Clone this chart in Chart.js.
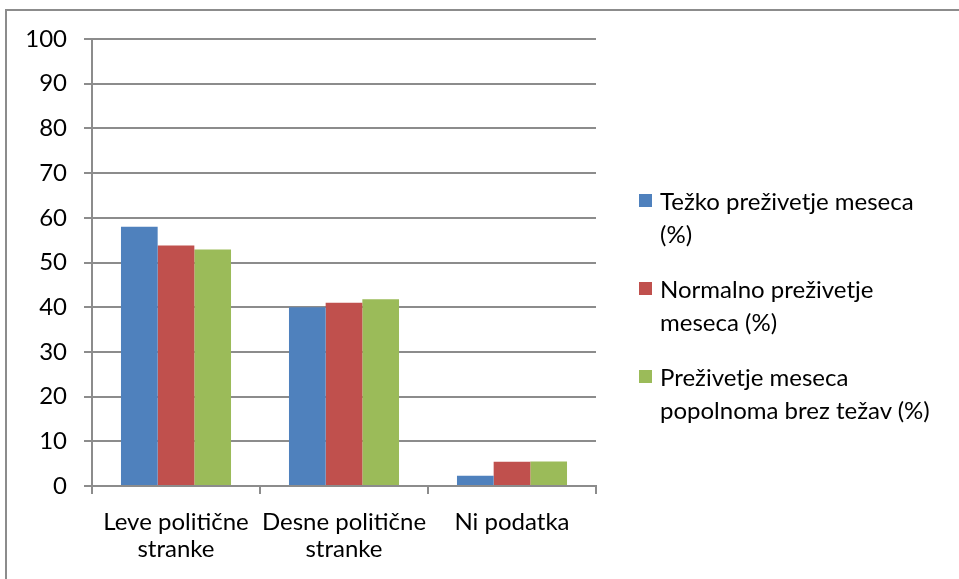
<!DOCTYPE html>
<html>
<head>
<meta charset="utf-8">
<script src="https://cdn.jsdelivr.net/npm/chart.js@4/dist/chart.umd.min.js"></script>
<style>
  body { margin: 0; background: #fff; width: 959px; height: 579px; overflow: hidden; position: relative; }
  #frame { position: absolute; left: 5px; top: 9px; width: 1000px; height: 620px; border: 2px solid #8c8c8c; box-sizing: border-box; }
  #wrap { position: absolute; left: 0; top: 0; width: 959px; height: 579px; }
  #legend { position: absolute; left: 639px; top: 184px; font-family: Lato, sans-serif; font-size: 24px; color: #000; line-height: 33px; }
  .item { position: relative; padding-left: 21px; margin-bottom: 22px; }
  .box { position: absolute; left: 0; top: 10px; width: 13px; height: 13px; }
</style>
</head>
<body>
<div id="frame"></div>
<div id="wrap"><canvas id="myChart"></canvas></div>
<div id="legend"></div>
<script>
var categories = [["Leve politične", "stranke"], ["Desne politične", "stranke"], "Ni podatka"];

var tezko = [58, 40, 2.3];
var normalno = [53.8, 41, 5.4];
var brezTezav = [52.9, 41.8, 5.5];

var seriesNames = [
  ["Težko preživetje meseca", "(%)"],
  ["Normalno preživetje", "meseca (%)"],
  ["Preživetje meseca", "popolnoma brez težav (%)"]
];

var colors = ["#4f81bd", "#c0504d", "#9bbb59"];
var gridColor = "#8c8c8c";

var data = {
  labels: categories,
  datasets: [
    { label: seriesNames[0].join(" "), data: tezko, backgroundColor: colors[0] },
    { label: seriesNames[1].join(" "), data: normalno, backgroundColor: colors[1] },
    { label: seriesNames[2].join(" "), data: brezTezav, backgroundColor: colors[2] }
  ]
};

var ctx = document.getElementById("myChart").getContext("2d");

var options = {
  responsive: true,
  maintainAspectRatio: false,
  animation: false,
  categoryPercentage: 0.655,
  barPercentage: 1.0,
  layout: { padding: { left: 0, right: 363, top: 39, bottom: 13 } },
  plugins: { legend: { display: false }, tooltip: { enabled: false } },
  scales: {
    x: {
      grid: { offset: true, drawOnChartArea: false, drawTicks: true, tickLength: 8, color: gridColor, lineWidth: 2 },
      border: { display: true, color: gridColor, width: 2 },
      ticks: { color: "#000", font: { family: "Lato", size: 24, lineHeight: 1.13 }, padding: 15, maxRotation: 0, autoSkip: false },
      afterFit: function (scale) { scale.height = 80; }
    },
    y: {
      min: 0,
      max: 100,
      ticks: { stepSize: 10, color: "#000", font: { family: "Lato", size: 24 }, padding: 17 },
      grid: { color: gridColor, lineWidth: 2, tickLength: 8 },
      border: { display: true, color: gridColor, width: 2 },
      afterFit: function (scale) { scale.width = 92; }
    }
  }
};

var barChart = new Chart(ctx, { type: "bar", data: data, options: options });

// legend drawn as html so the labels can wrap like in the original
var legend = document.getElementById("legend");
seriesNames.forEach(function (lines, i) {
  var item = document.createElement("div");
  item.className = "item";
  item.innerHTML = '<span class="box" style="background:' + colors[i] + '"></span>' + lines.join("<br>");
  legend.appendChild(item);
});
</script>
</body>
</html>
